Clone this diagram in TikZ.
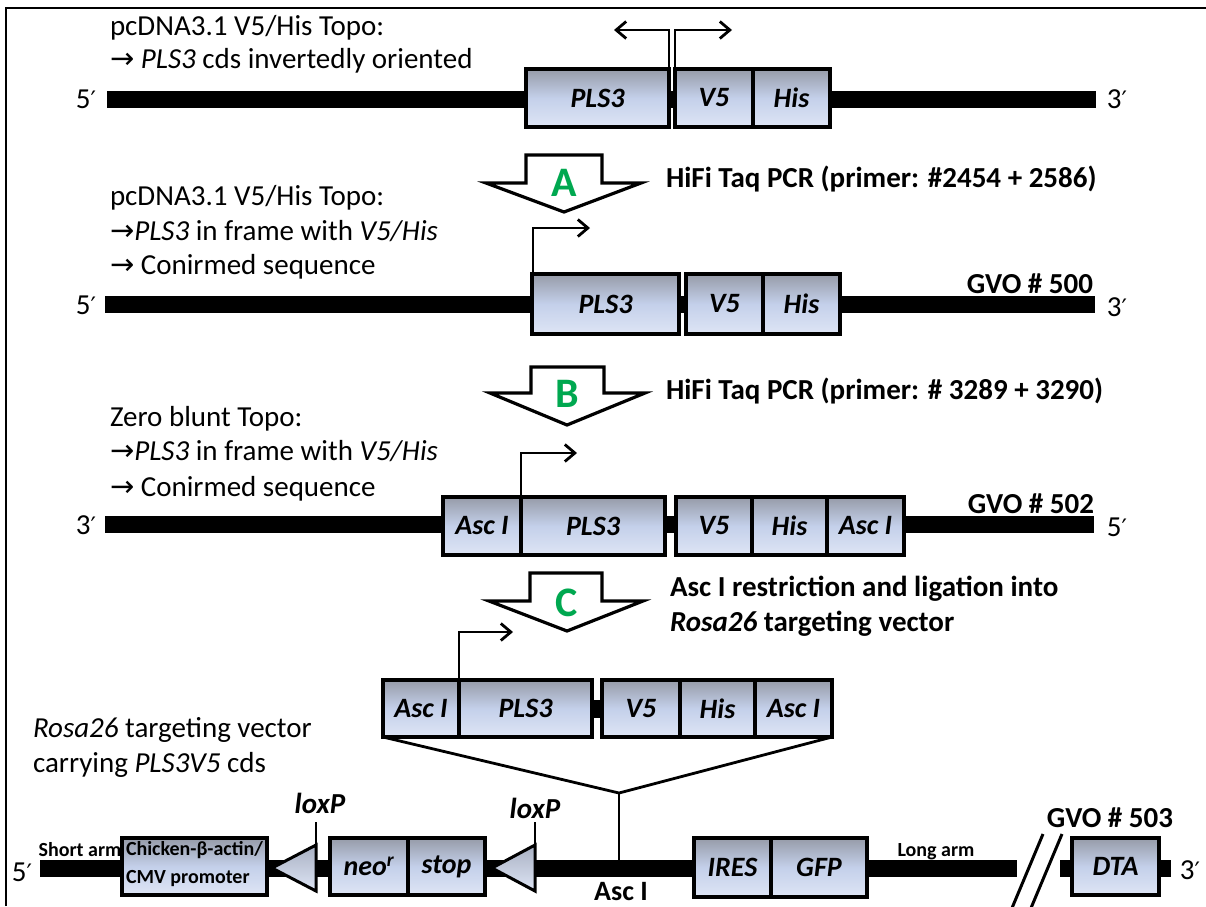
\documentclass[tikz,border=0pt]{standalone}
\usepackage{fontspec}
\setmainfont{Carlito}
\newfontfamily\djv{DejaVu Sans}
\usetikzlibrary{arrows.meta}
\definecolor{gtop}{RGB}{150,155,168}
\definecolor{gmid}{RGB}{196,208,234}
\definecolor{gbot}{RGB}{222,229,245}
\definecolor{lettergreen}{RGB}{0,168,80}
\newcommand{\arr}{{\djv\fontsize{29}{34}\selectfont →}}
\newcommand{\pr}{{\djv\fontsize{24}{30}\selectfont ′}}
\tikzset{
  every node/.style={font=\fontsize{29}{34}\selectfont, inner sep=0pt, outer sep=0pt},
  gbox/.style={draw, line width=3.5pt, top color=gtop, bottom color=gbot, middle color=gmid,
    anchor=north west, font=\fontsize{28}{30}\selectfont\bfseries\itshape},
  tri/.style={draw, line width=3pt, top color=gtop!60!gmid, bottom color=gbot, line join=miter},
  prom/.style={line width=2.8pt, line join=miter, -{Straight Barb[length=10pt,width=17pt,line width=2.8pt]}},
  blockarrow/.style={draw, line width=3.2pt, fill=white, line join=miter},
  letter/.style={font=\fontsize{42}{44}\selectfont\bfseries, text=lettergreen},
  lab/.style={anchor=mid west},
  blab/.style={anchor=mid west, font=\fontsize{29}{34}\selectfont\bfseries},
  small/.style={font=\fontsize{20}{24}\selectfont\bfseries},
  thin/.style={line width=2.8pt}
}
\begin{document}
\begin{tikzpicture}[x=1pt,y=-1pt]
\useasboundingbox (0,0) rectangle (1206,906);
\fill[white] (0,0) rectangle (1206,906);
\draw[line width=2pt] (6,906) -- (6,8) -- (1206,8);

% ---------- Row 1 ----------
\node[lab] (t1a) at (110,33) {pcDNA3.1 V5/His Topo:};
\node[lab] (t1b) at (110,66) {\arr\ \textit{PLS3} cds invertedly oriented};
\node (p1l) at (86,99) {5\pr};
\node (p1r) at (1117,99) {3\pr};
\fill (107,91) rectangle (1096,108);
\node[gbox, minimum width=143pt, minimum height=58pt] (r1pls) at (526,69) {\textit{PLS3}};
\node[gbox, minimum width=78pt, minimum height=58pt] (r1v5) at (675,69) {V5};
\node[gbox, minimum width=77pt, minimum height=58pt] (r1his) at (753,69) {His};
\coordinate (r1a) at (669,91);
\coordinate (r1b) at (669,30);
\coordinate (r1c) at (614,30);
\coordinate (r1d) at (675,91);
\coordinate (r1e) at (675,30);
\coordinate (r1f) at (732,30);
\draw[prom] (r1a) -- (r1b) -- (r1c);
\draw[prom] (r1d) -- (r1e) -- (r1f);

% ---------- Arrow A ----------
\draw[blockarrow] (526,155) -- (602,155) -- (602,183) -- (641,183) -- (564,212) -- (486,183) -- (526,183) -- cycle;
\node[letter] (la) at (564,183) {A};
\node[blab] (ta) at (666,185) {HiFi Taq PCR (primer: \#2454 + 2586)};

% ---------- Row 2 ----------
\node[lab] (t2a) at (110,203) {pcDNA3.1 V5/His Topo:};
\node[lab] (t2b) at (110,238) {\arr\textit{PLS3} in frame with \textit{V5/His}};
\node[lab] (t2c) at (110,272) {\arr\ Conirmed sequence};
\node (p2l) at (86,305) {5\pr};
\node (p2r) at (1117,307) {3\pr};
\fill (105,296) rectangle (1095,313);
\node[gbox, minimum width=147pt, minimum height=60pt] (r2pls) at (532,274) {\textit{PLS3}};
\node[gbox, minimum width=77pt, minimum height=60pt] (r2v5) at (686,274) {V5};
\node[gbox, minimum width=77pt, minimum height=60pt] (r2his) at (763,274) {His};
\node[anchor=base east, font=\fontsize{29}{34}\selectfont\bfseries] (g500) at (1093,293) {GVO \# 500};
\coordinate (r2a) at (533,274);
\coordinate (r2b) at (533,228);
\coordinate (r2c) at (590,228);
\draw[prom] (r2a) -- (r2b) -- (r2c);

% ---------- Arrow B ----------
\draw[blockarrow] (531,367) -- (604,367) -- (604,393) -- (645,393) -- (567,425) -- (490,393) -- (531,393) -- cycle;
\node[letter] (lb) at (567,394) {B};
\node[blab] (tb) at (666,397) {HiFi Taq PCR (primer: \# 3289 + 3290)};

% ---------- Row 3 ----------
\node[lab] (t3a) at (110,424) {Zero blunt Topo:};
\node[lab] (t3b) at (110,458) {\arr\textit{PLS3} in frame with \textit{V5/His}};
\node[lab] (t3c) at (110,494) {\arr\ Conirmed sequence};
\node (p3l) at (86,525) {3\pr};
\node (p3r) at (1117,527) {5\pr};
\fill (105,516) rectangle (1094,533);
\node[gbox, minimum width=78pt, minimum height=58pt] (r3asc1) at (443,497) {Asc I};
\node[gbox, minimum width=144pt, minimum height=58pt] (r3pls) at (521,497) {PLS3};
\node[gbox, minimum width=76pt, minimum height=58pt] (r3v5) at (676,497) {V5};
\node[gbox, minimum width=75pt, minimum height=58pt] (r3his) at (752,497) {His};
\node[gbox, minimum width=77pt, minimum height=58pt] (r3asc2) at (827,497) {Asc I};
\node[anchor=base east, font=\fontsize{29}{34}\selectfont\bfseries] (g502) at (1094,513) {GVO \# 502};
\coordinate (r3a) at (521,497);
\coordinate (r3b) at (521,453);
\coordinate (r3c) at (577,453);
\draw[prom] (r3a) -- (r3b) -- (r3c);

% ---------- Arrow C ----------
\draw[blockarrow] (530,573) -- (602,573) -- (602,601) -- (643,601) -- (567,631) -- (489,601) -- (530,601) -- cycle;
\node[letter] (lc) at (567,603) {C};
\node[blab] (tc1) at (670,594) {Asc I restriction and ligation into};
\node[blab] (tc2) at (670,629) {\textit{Rosa26} targeting vector};

% ---------- Insert ----------
\fill (590,700) rectangle (604,718);
\node[gbox, minimum width=76pt, minimum height=57pt] (iasc1) at (383,680) {Asc I};
\node[gbox, minimum width=133pt, minimum height=57pt] (ipls) at (459,680) {PLS3};
\node[gbox, minimum width=78pt, minimum height=57pt] (iv5) at (602,680) {V5};
\node[gbox, minimum width=75pt, minimum height=57pt] (ihis) at (680,680) {His};
\node[gbox, minimum width=77pt, minimum height=57pt] (iasc2) at (755,680) {Asc I};
\coordinate (ia) at (459,680);
\coordinate (ib) at (459,632);
\coordinate (ic) at (513,632);
\draw[prom] (ia) -- (ib) -- (ic);
\coordinate (yj) at (619,793);
\coordinate (ybot) at (619,862);
\draw[thin] (iasc1.south west) -- (yj) -- (iasc2.south east);
\draw[thin] (yj) -- (ybot);

\node[lab] (t4a) at (33,735) {\textit{Rosa26} targeting vector};
\node[lab] (t4b) at (33,770) {carrying \textit{PLS3V5} cds};

% ---------- Bottom row ----------
\fill (40,860) rectangle (1017,877);
\fill (1060,860) rectangle (1171,877);
\node (p4l) at (22,872) {5\pr};
\node (p4r) at (1190,870) {3\pr};
\node[small] (sarm) at (80,850) {Short arm};
\node[gbox, minimum width=145pt, minimum height=57pt] (cba) at (122,838) {};
\node[small, anchor=mid west] (cbat) at (126,853) {Chicken-β-actin/};
\node[small, anchor=mid west] (cbab) at (126,881) {CMV promoter};
\draw[tri] (316,845) -- (316,891) -- (272,868) -- cycle;
\coordinate (lx1a) at (316,822);
\coordinate (lx1b) at (316,891);
\draw[thin] (lx1a) -- (lx1b);
\node[font=\fontsize{29}{34}\selectfont\bfseries\itshape] (lox1) at (320,803) {loxP};
\node[gbox, minimum width=78pt, minimum height=57pt] (neo) at (330,838) {neo\textsuperscript{r}};
\node[gbox, minimum width=77pt, minimum height=57pt] (stop) at (408,838) {stop};
\draw[tri] (535,845) -- (535,891) -- (492,868) -- cycle;
\coordinate (lx2a) at (535,822);
\coordinate (lx2b) at (535,891);
\draw[thin] (lx2a) -- (lx2b);
\node[font=\fontsize{29}{34}\selectfont\bfseries\itshape] (lox2) at (535,808) {loxP};
\node[font=\fontsize{28}{34}\selectfont\bfseries] (ascb) at (621,892) {Asc I};
\node[gbox, minimum width=77pt, minimum height=59pt] (ires) at (694,838) {IRES};
\node[gbox, minimum width=96pt, minimum height=59pt] (gfp) at (771,838) {GFP};
\node[small] (larm) at (936,852) {Long arm};
\coordinate (s1a) at (1012,908);
\coordinate (s1b) at (1043,834);
\coordinate (s2a) at (1031,908);
\coordinate (s2b) at (1062,834);
\draw[line width=3pt] (s1a) -- (s1b);
\draw[line width=3pt] (s2a) -- (s2b);
\node[gbox, minimum width=87pt, minimum height=57pt] (dta) at (1072,838) {DTA};
\node[font=\fontsize{29}{34}\selectfont\bfseries] (g503) at (1110,818) {GVO \# 503};
\end{tikzpicture}
\end{document}
